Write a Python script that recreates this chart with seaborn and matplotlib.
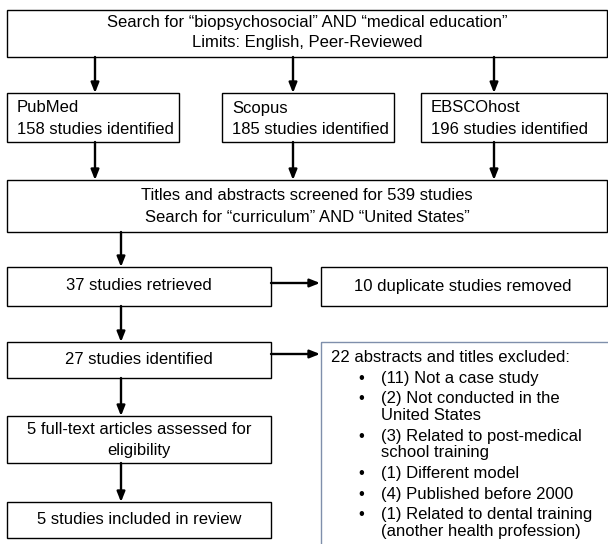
import matplotlib
matplotlib.use("Agg")
import matplotlib.pyplot as plt
import matplotlib.patches as mpatches
import seaborn as sns

# flowchart content
search_terms = ["Search for \u201cbiopsychosocial\u201d AND \u201cmedical education\u201d",
                "Limits: English, Peer-Reviewed"]
databases = ["PubMed", "Scopus", "EBSCOhost"]
db_counts = [158, 185, 196]
screened_total = 539
screen_terms = "Search for \u201ccurriculum\u201d AND \u201cUnited States\u201d"
retrieved = 37
duplicates = 10
identified = 27
excluded = 22
exclusion_counts = [11, 2, 3, 1, 4, 1]
exclusion_reasons = ["Not a case study",
                     "Not conducted in the\nUnited States",
                     "Related to post-medical\nschool training",
                     "Different model",
                     "Published before 2000",
                     "Related to dental training\n(another health profession)"]
fulltext = 5
included = 5

sns.set_theme(style="white")
plt.rcParams["font.family"] = ["Liberation Sans", "DejaVu Sans"]
plt.rcParams["text.color"] = "black"

fig = plt.figure(figsize=(6.08, 5.44), dpi=100)
ax = fig.add_axes([0, 0, 1, 1])
ax.set_xlim(0, 608)
ax.set_ylim(544, 0)
ax.axis("off")

FS = 12


def box(x0, y0, x1, y1, color="black", lw=1.0):
    ax.add_patch(mpatches.Rectangle((x0, y0), x1 - x0, y1 - y0, fill=False,
                                    edgecolor=color, linewidth=lw))


def arrow(x0, y0, x1, y1):
    ax.annotate("", xy=(x1, y1), xytext=(x0, y0),
                arrowprops=dict(arrowstyle="-|>,head_length=0.5,head_width=0.2",
                                color="black", lw=1.7, shrinkA=0, shrinkB=0))


# top search box
box(7, 10, 607, 57)
ax.text(307, 23, search_terms[0], ha="center", va="center", fontsize=FS)
ax.text(307, 43, search_terms[1], ha="center", va="center", fontsize=FS)

# database boxes
db_x = [(7, 179), (222, 394), (421, 607)]
arrow_x = [95, 293, 494]
for (x0, x1), ax_x, name, n in zip(db_x, arrow_x, databases, db_counts):
    box(x0, 93, x1, 142)
    ax.text(x0 + 10, 108, name, ha="left", va="center", fontsize=FS)
    ax.text(x0 + 10, 129, f"{n} studies identified", ha="left", va="center", fontsize=FS)
    arrow(ax_x, 57, ax_x, 93)
    arrow(ax_x, 142, ax_x, 180)

# screening box
box(7, 180, 607, 232)
ax.text(307, 196, f"Titles and abstracts screened for {screened_total} studies",
        ha="center", va="center", fontsize=FS)
ax.text(307, 217, screen_terms, ha="center", va="center", fontsize=FS)

# left column
cx = 121
box(7, 267, 271, 306)
ax.text(139, 286, f"{retrieved} studies retrieved", ha="center", va="center", fontsize=FS)
box(321, 267, 607, 306)
ax.text(463, 286, f"{duplicates} duplicate studies removed", ha="center", va="center", fontsize=FS)
arrow(cx, 232, cx, 267)
arrow(271, 283, 320, 283)

box(7, 342, 271, 378)
ax.text(139, 360, f"{identified} studies identified", ha="center", va="center", fontsize=FS)
arrow(cx, 306, cx, 342)
arrow(271, 354, 320, 354)

box(7, 416, 271, 463)
ax.text(139, 430, f"{fulltext} full-text articles assessed for", ha="center", va="center", fontsize=FS)
ax.text(139, 450, "eligibility", ha="center", va="center", fontsize=FS)
arrow(cx, 378, cx, 416)

box(7, 502, 271, 538)
ax.text(139, 520, f"{included} studies included in review", ha="center", va="center", fontsize=FS)
arrow(cx, 463, cx, 502)

# exclusion box
box(321, 342, 610, 560, color="#7f8fab", lw=1.0)
ax.text(331, 358, f"{excluded} abstracts and titles excluded:", ha="left", va="center", fontsize=FS)
y = 378
for n, reason in zip(exclusion_counts, exclusion_reasons):
    lines = f"({n}) {reason}".split("\n")
    ax.text(361, y, "\u2022", ha="center", va="center", fontsize=FS)
    for ln in lines:
        ax.text(381, y, ln, ha="left", va="center", fontsize=FS)
        y += 17
    y += 3.5

fig.savefig("out.png", dpi=100)
